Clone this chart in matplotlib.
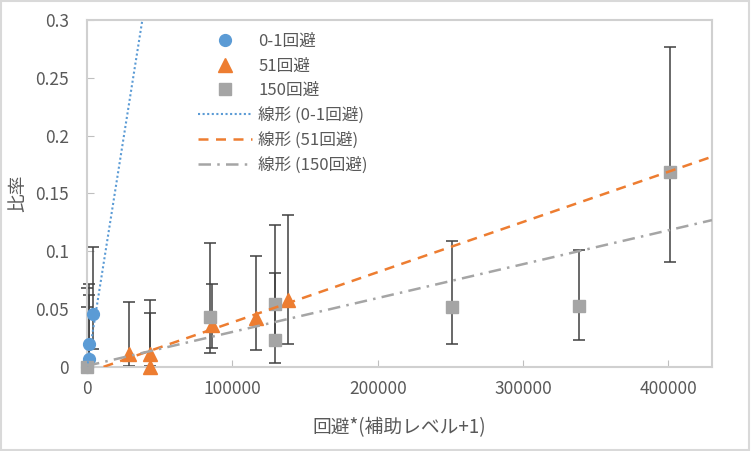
import numpy as np
import matplotlib
matplotlib.use('Agg')
import matplotlib.pyplot as plt
from matplotlib.ticker import MultipleLocator, FuncFormatter
from matplotlib.patches import Rectangle

plt.rcParams['font.family'] = ['Noto Sans CJK JP', 'DejaVu Sans']

# series: x, y, error bar low/high ends
x_01 = [300, 1100, 1200, 4400]
y_01 = [0.0, 0.007, 0.020, 0.046]
lo_01 = [0.0, 0.0, 0.005, 0.0153]
hi_01 = [0.052, 0.062, 0.072, 0.104]

x_51 = [28800, 43200, 43200, 86200, 116600, 138100]
y_51 = [0.011, 0.011, 0.0, 0.036, 0.0425, 0.058]
lo_51 = [0.001, 0.001, 0.0, 0.016, 0.0144, 0.0195]
hi_51 = [0.0558, 0.0575, 0.047, 0.072, 0.096, 0.131]

x_150 = [0, 84400, 129000, 129000, 250800, 338800, 401000]
y_150 = [0.0, 0.0434, 0.0543, 0.0233, 0.052, 0.0526, 0.169]
lo_150 = [0.0, 0.0118, 0.025, 0.0032, 0.0196, 0.023, 0.0905]
hi_150 = [0.068, 0.1075, 0.1224, 0.0816, 0.109, 0.101, 0.2767]

# linear trend lines (slope, intercept)
trend_01 = (7.9e-6, -0.0008)
trend_51 = (4.34e-7, -0.0048)
trend_150 = (2.93e-7, 0.001)

labels = ['0-1回避', '51回避', '150回避']
colors = ['#5B9BD5', '#ED7D31', '#A5A5A5']
markers = ['o', '^', 's']
msizes = [8.5, 9.5, 8]
styles = [(0, (1, 1.2)), (0, (4, 3)), (0, (5, 2.5, 1, 2.5))]

series = [(x_01, y_01, lo_01, hi_01), (x_51, y_51, lo_51, hi_51),
          (x_150, y_150, lo_150, hi_150)]
trends = [trend_01, trend_51, trend_150]

fig = plt.figure(figsize=(7.51, 4.51), dpi=100)
fig.patches.append(Rectangle((0.001, 0.002), 0.997, 0.995, transform=fig.transFigure,
                             fill=False, edgecolor='#d9d9d9', linewidth=1.5))
ax = fig.add_axes([87 / 751, 1 - 367 / 451, 625 / 751, 347 / 451])

xmax = 430000
mark_handles = []
line_handles = []
for (xs, ys, lo, hi), lab, c, m, ms in zip(series, labels, colors, markers, msizes):
    xs = np.array(xs)
    ys = np.array(ys)
    err = [ys - np.array(lo), np.array(hi) - ys]
    ax.errorbar(xs, ys, yerr=err, fmt='none', ecolor='#404040', elinewidth=1.1,
                capsize=4.3, capthick=1.1, zorder=2, clip_on=False)
    h, = ax.plot(xs, ys, ls='none', marker=m, ms=ms, color=c, label=lab,
                 zorder=3, clip_on=False)
    mark_handles.append(h)

xx = np.linspace(0, xmax, 200)
for (b, a), lab, c, st in zip(trends, labels, colors, styles):
    lw = 1.5 if c == colors[0] else 1.8
    h, = ax.plot(xx, a + b * xx, ls=st, color=c, lw=lw, label='線形 (' + lab + ')',
                 zorder=4)
    line_handles.append(h)

ax.set_xlim(0, xmax)
ax.set_ylim(0, 0.3)
ax.xaxis.set_major_locator(MultipleLocator(100000))
ax.yaxis.set_major_locator(MultipleLocator(0.05))
ax.yaxis.set_major_formatter(FuncFormatter(lambda v, p: '%g' % round(v, 3)))
ax.xaxis.set_major_formatter(FuncFormatter(lambda v, p: '%d' % v))

for s in ax.spines.values():
    s.set_color('#d0d0d0')
    s.set_linewidth(1.5)
ax.tick_params(direction='in', length=5, color='#bfbfbf', labelcolor='#595959',
               labelsize=12.5)
ax.tick_params(axis='y', pad=13)
ax.tick_params(axis='x', pad=9)

ax.set_xlabel('回避*(補助レベル+1)', fontsize=13.5, color='#595959', labelpad=14)
ax.set_ylabel('比率', fontsize=13.5, color='#595959', labelpad=5)

ax.legend(handles=mark_handles + line_handles, loc='upper left',
          bbox_to_anchor=(0.178, 0.963), frameon=False, fontsize=12,
          borderpad=0, borderaxespad=0, handlelength=3.2, handletextpad=0.4,
          labelspacing=0.46, labelcolor='#595959')

fig.savefig('out.png', dpi=100)
